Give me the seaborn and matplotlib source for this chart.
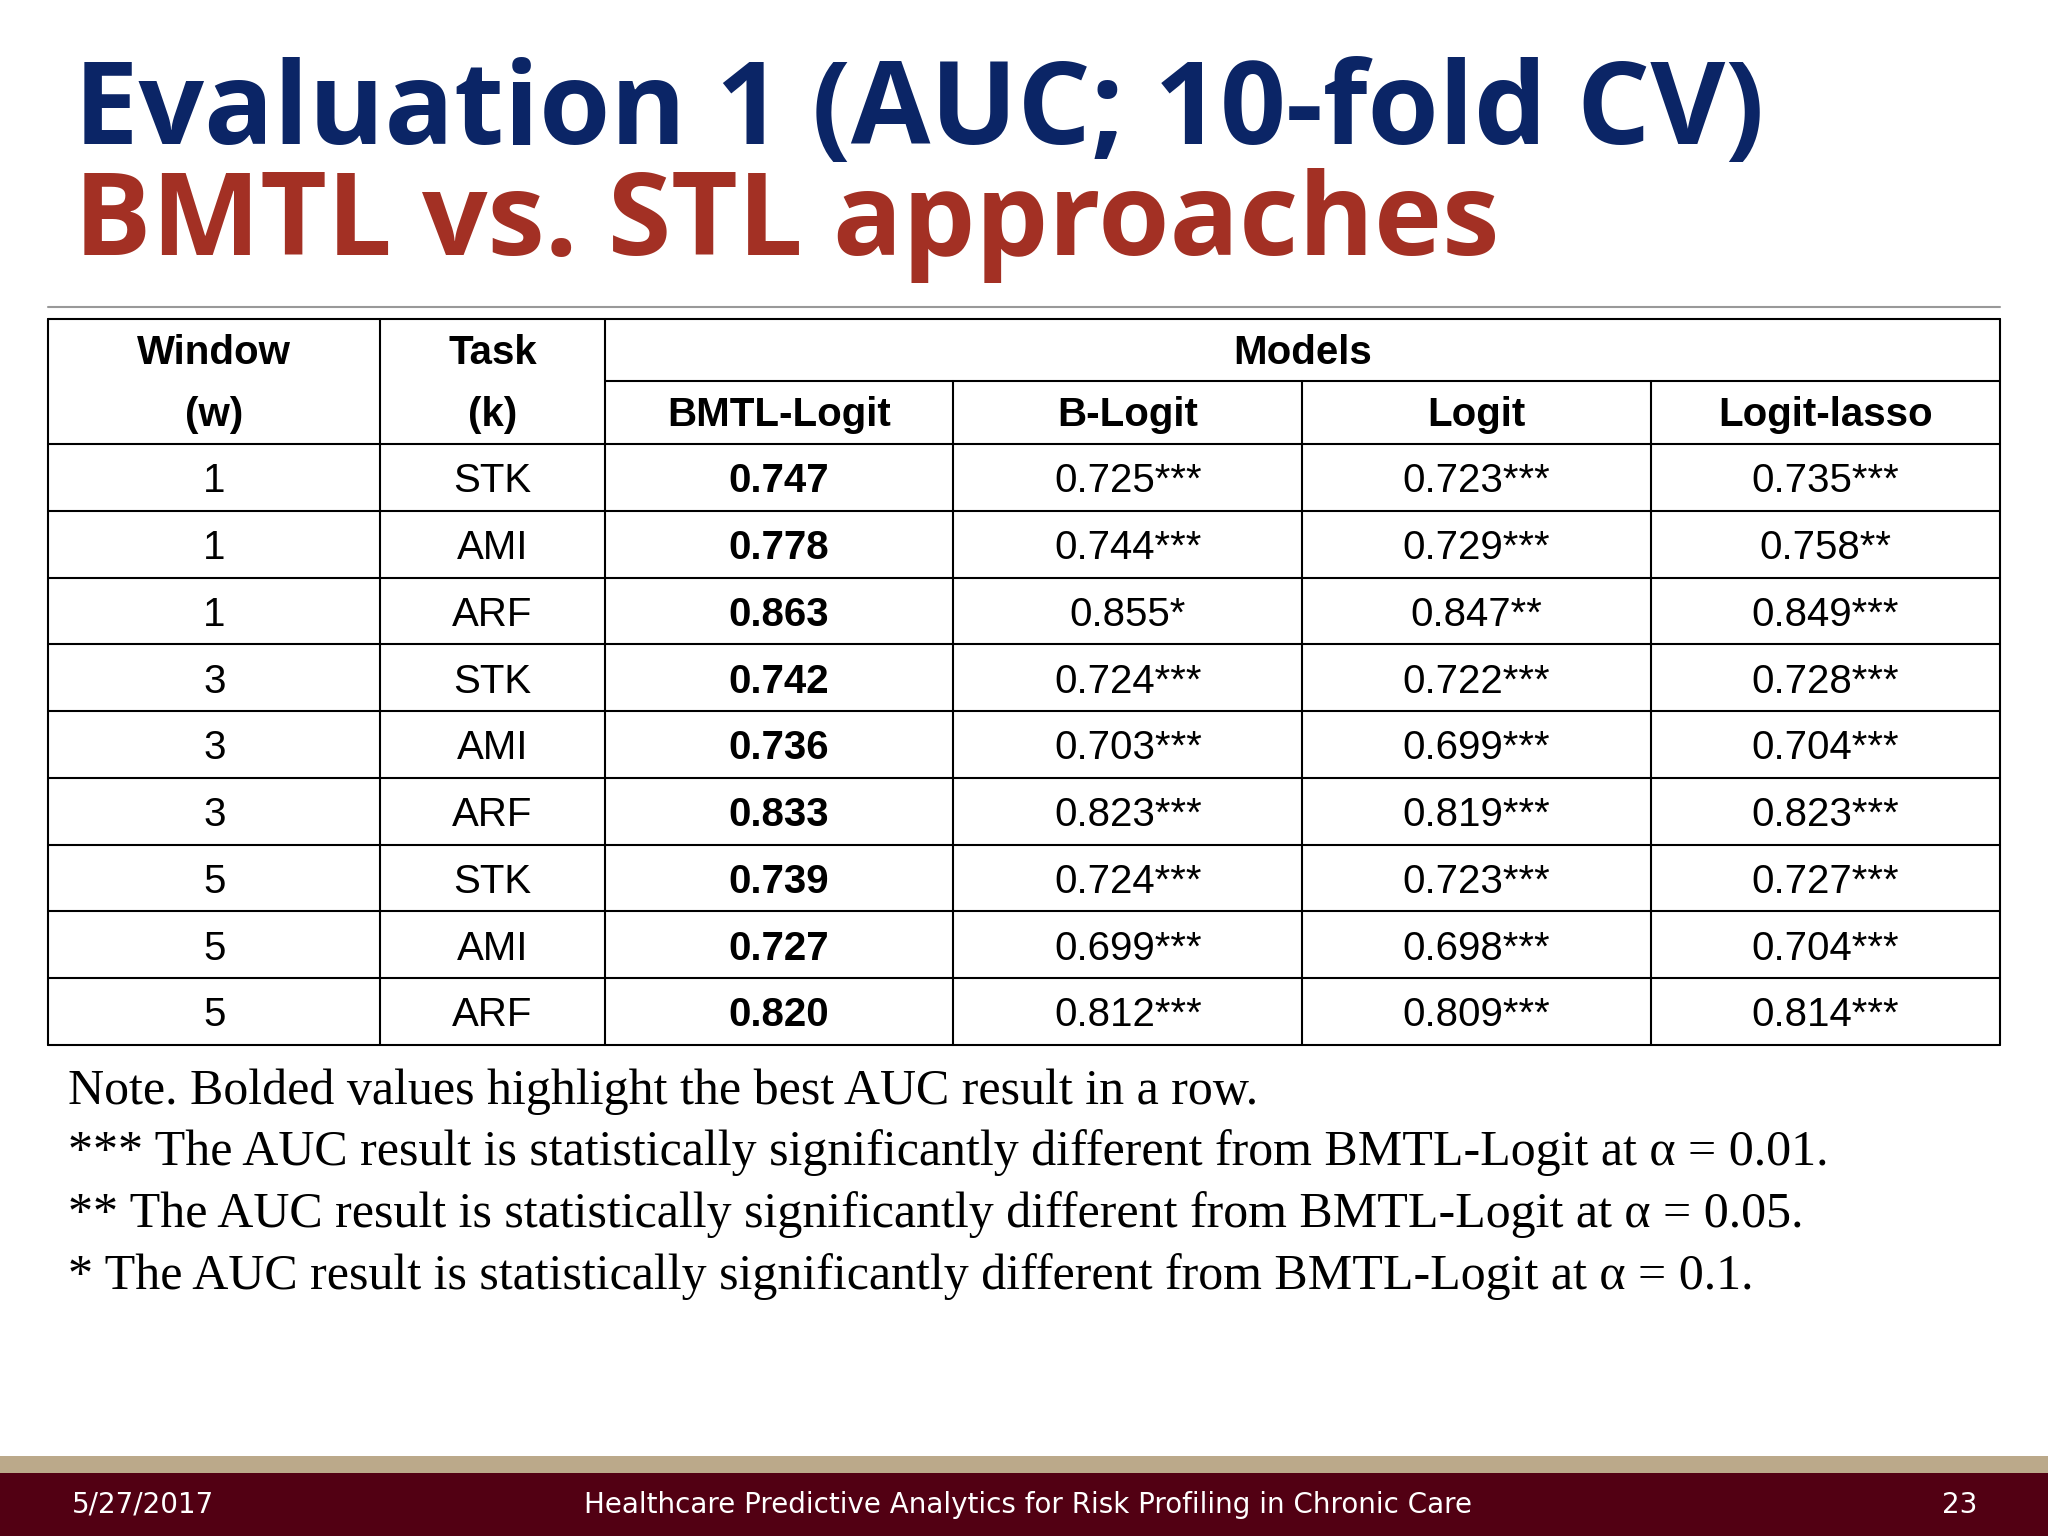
import matplotlib
matplotlib.use("Agg")
import matplotlib.pyplot as plt
import seaborn as sns
from matplotlib.font_manager import fontManager

sns.set_theme(style="white")
plt.rcParams['font.family'] = ['DejaVu Sans']

windows = [1, 1, 1, 3, 3, 3, 5, 5, 5]
tasks = ["STK", "AMI", "ARF", "STK", "AMI", "ARF", "STK", "AMI", "ARF"]
models = ["BMTL-Logit", "B-Logit", "Logit", "Logit-lasso"]
bmtl = ["0.747", "0.778", "0.863", "0.742", "0.736", "0.833", "0.739", "0.727", "0.820"]
blogit = ["0.725***", "0.744***", "0.855*", "0.724***", "0.703***", "0.823***", "0.724***", "0.699***", "0.812***"]
logit = ["0.723***", "0.729***", "0.847**", "0.722***", "0.699***", "0.819***", "0.723***", "0.698***", "0.809***"]
lasso = ["0.735***", "0.758**", "0.849***", "0.728***", "0.704***", "0.823***", "0.727***", "0.704***", "0.814***"]
notes = ["Note. Bolded values highlight the best AUC result in a row.",
         "*** The AUC result is statistically significantly different from BMTL-Logit at α = 0.01.",
         "** The AUC result is statistically significantly different from BMTL-Logit at α = 0.05.",
         "* The AUC result is statistically significantly different from BMTL-Logit at α = 0.1."]
title1 = "Evaluation 1 (AUC; 10-fold CV)"
title2 = "BMTL vs. STL approaches"
footer = ["5/27/2017", "Healthcare Predictive Analytics for Risk Profiling in Chronic Care", "23"]

names = {f.name for f in fontManager.ttflist}
narrow = "Liberation Sans Narrow" if "Liberation Sans Narrow" in names else "Liberation Sans"

fig = plt.figure(figsize=(20.48, 15.36), dpi=100)
ax = fig.add_axes([0, 0, 1, 1])
ax.set_xlim(0, 1568)
ax.set_ylim(1176, 0)
ax.axis("off")

ax.text(57, 110, title1, fontsize=83, fontweight="bold", color="#0b2566", family="Open Sans", va="baseline")
ax.text(57, 195, title2, fontsize=83, fontweight="bold", color="#a33024", family="Open Sans", va="baseline")
ax.plot([37, 1531], [235, 235], color="#999999", lw=1.5)

cols = [37, 291, 463, 730, 997, 1264, 1531]
rows = [340 + i * 51.1 for i in range(10)]
lw = 1.5
ax.plot([37, 1531], [244, 244], color="black", lw=lw)
ax.plot([463, 1531], [292, 292], color="black", lw=lw)
for y in rows:
    ax.plot([37, 1531], [y, y], color="black", lw=lw)
for i, x in enumerate(cols):
    top = 292 if 3 <= i <= 5 else 244
    ax.plot([x, x], [top, rows[-1]], color="black", lw=lw)

fs = 29
hk = dict(fontsize=fs, family=narrow, fontweight="bold", ha="center", va="center", color="black")
ax.text(164, 270, "Window", **hk); ax.text(164, 318, "(w)", **hk)
ax.text(377, 270, "Task", **hk); ax.text(377, 318, "(k)", **hk)
ax.text(997, 270, "Models", **hk)
for j, m in enumerate(models):
    ax.text((cols[2 + j] + cols[3 + j]) / 2, 318, m, **hk)

for r in range(9):
    yc = (rows[r] + rows[r + 1]) / 2 + 3
    k = dict(fontsize=fs, family=narrow, ha="center", va="center", color="black")
    ax.text(164, yc, str(windows[r]), **k)
    ax.text(377, yc, tasks[r], **k)
    ax.text(596, yc, bmtl[r], fontweight="bold", **k)
    for j, vals in enumerate([blogit, logit, lasso]):
        ax.text((cols[3 + j] + cols[4 + j]) / 2, yc, vals[r], **k)

for i, n in enumerate(notes):
    ax.text(52, 845 + i * 47.3, n, fontsize=36, family="Liberation Serif", va="baseline", color="black")

ax.add_patch(plt.Rectangle((0, 1115), 1568, 13, color="#bba98a", lw=0))
ax.add_patch(plt.Rectangle((0, 1128), 1568, 48, color="#520013", lw=0))
fk = dict(fontsize=20, color="white", va="center", family="DejaVu Sans")
ax.text(55, 1152, footer[0], ha="left", **fk)
ax.text(787, 1152, footer[1], ha="center", **fk)
ax.text(1514, 1152, footer[2], ha="right", **fk)

fig.savefig("out.png", dpi=100)
